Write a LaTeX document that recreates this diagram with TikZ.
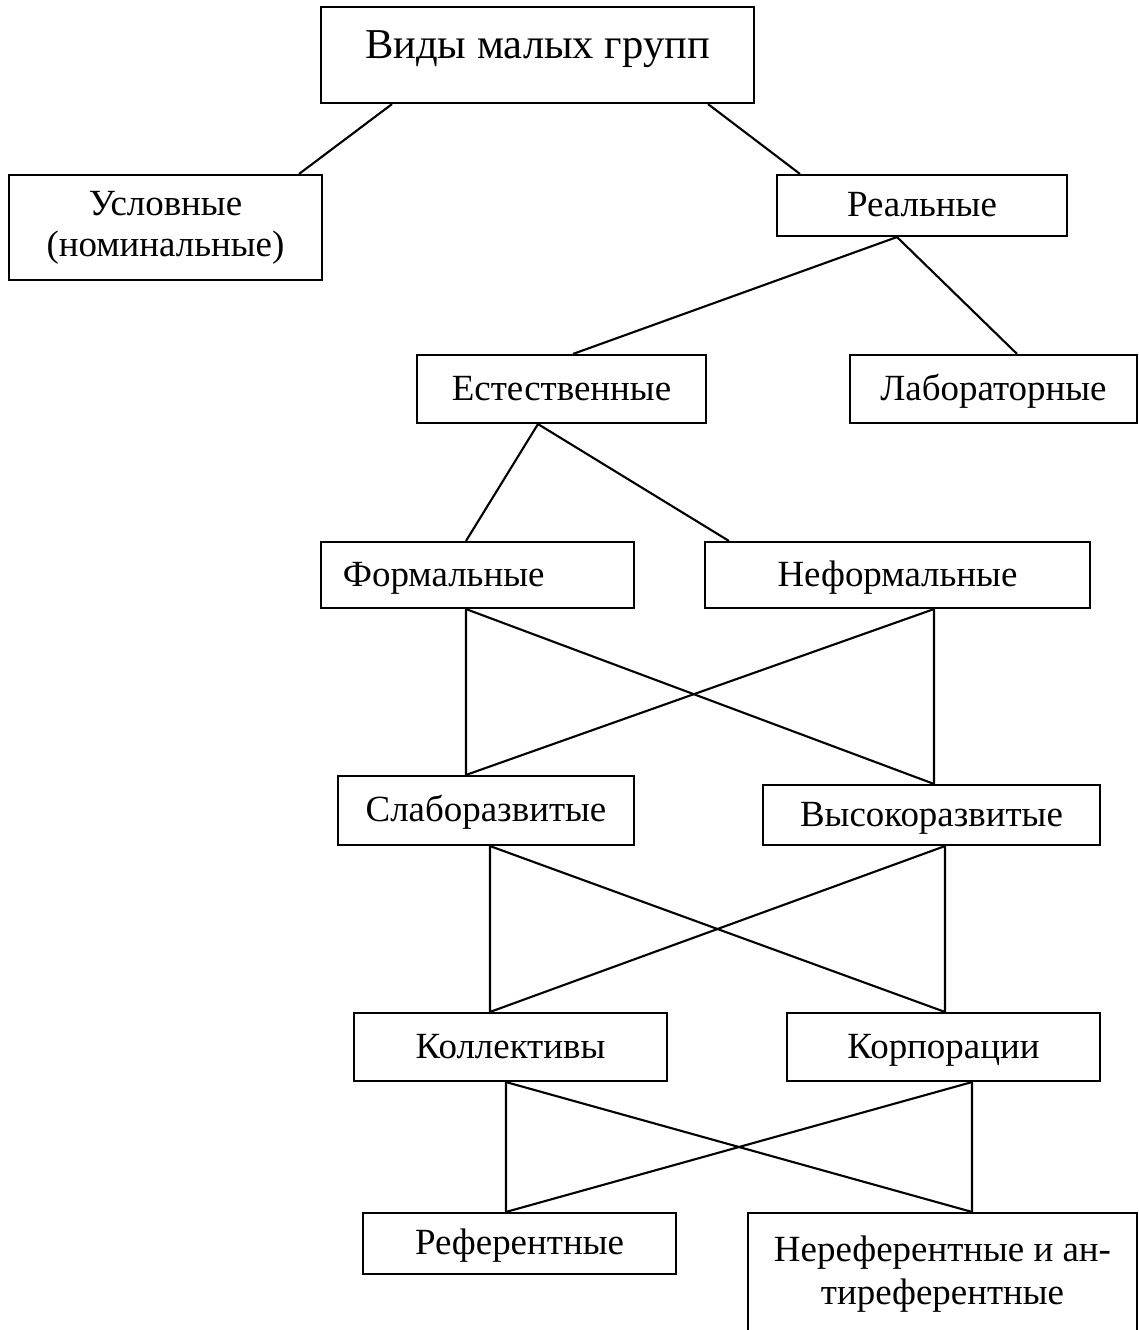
\documentclass[tikz,border=0pt]{standalone}
\usepackage{fontspec}
\setmainfont{Liberation Serif}

\begin{document}
\begin{tikzpicture}[x=0.01cm, y=-0.01cm, line width=0.6pt,
  box/.style 2 args={draw, rectangle, inner sep=0pt, minimum width=#1*0.01cm, minimum height=#2*0.01cm,
    text height=0.25cm, text depth=0.03cm, font=\fontsize{10.5}{11.4}\selectfont},
  twoline/.style={text height={}, text depth={}, align=center}]
\path[use as bounding box] (0,0) rectangle (1138,1330);
\node[box={433}{96}, text height=0.51cm, text depth=0.45cm, font=\fontsize{12.1}{14}\selectfont] (vidy) at (537.5,55) {Виды малых групп};
\node[box={313}{105}, twoline, font=\fontsize{10.5}{11.6}\selectfont] (uslov) at (165.5,227.5) {Условные\\(номинальные)};
\node[box={290}{61}] (real) at (922,205.5) {Реальные};
\node[box={289}{68}] (estest) at (561.5,389) {Естественные};
\node[box={287}{68}] (labor) at (993.5,389) {Лабораторные};
\node[box={313}{66}, inner xsep=0.22cm, text width=2.69cm, align=left] (formal) at (477.5,575) {Формальные};
\node[box={385}{66}] (neformal) at (897.5,575) {Неформальные};
\node[box={296}{69}] (slabo) at (486,810.5) {Слаборазвитые};
\node[box={337}{60}] (vysoko) at (931.5,815) {Высокоразвитые};
\node[box={313}{68}] (kollekt) at (510.5,1047) {Коллективы};
\node[box={313}{68}] (korpor) at (943.5,1047) {Корпорации};
\node[box={313}{61}] (refer) at (519.5,1243.5) {Референтные};
\node[box={389}{122}, twoline, font=\fontsize{10.5}{12.4}\selectfont] (neref) at (942.5,1274) {Нереферентные и ан-\\тиреферентные};
% upper levels
\draw ([xshift=.72cm]vidy.south west) -- ([xshift=-.24cm]uslov.north east);
\draw ([xshift=-.47cm]vidy.south east) -- ([xshift=.24cm]real.north west);
\draw ([xshift=-.25cm]real.south) -- ([xshift=.115cm]estest.north);
\draw ([xshift=-.25cm]real.south) -- ([xshift=.235cm]labor.north);
\draw ([xshift=-.235cm]estest.south) -- ([xshift=-.115cm]formal.north);
\draw ([xshift=-.235cm]estest.south) -- ([xshift=.25cm]neformal.north west);
% crossings
\draw ([xshift=-.115cm]formal.south) -- ([xshift=-.2cm]slabo.north);
\draw ([xshift=-.115cm]formal.south) -- ([xshift=.025cm]vysoko.north);
\draw ([xshift=.365cm]neformal.south) -- ([xshift=.025cm]vysoko.north);
\draw ([xshift=.365cm]neformal.south) -- ([xshift=-.2cm]slabo.north);
\draw ([xshift=.04cm]slabo.south) -- ([xshift=-.205cm]kollekt.north);
\draw ([xshift=.04cm]slabo.south) -- ([xshift=.015cm]korpor.north);
\draw ([xshift=.135cm]vysoko.south) -- ([xshift=.015cm]korpor.north);
\draw ([xshift=.135cm]vysoko.south) -- ([xshift=-.205cm]kollekt.north);
\draw ([xshift=-.045cm]kollekt.south) -- ([xshift=-.135cm]refer.north);
\draw ([xshift=-.045cm]kollekt.south) -- ([xshift=.295cm]neref.north);
\draw ([xshift=.285cm]korpor.south) -- ([xshift=.295cm]neref.north);
\draw ([xshift=.285cm]korpor.south) -- ([xshift=-.135cm]refer.north);
\end{tikzpicture}
\end{document}
